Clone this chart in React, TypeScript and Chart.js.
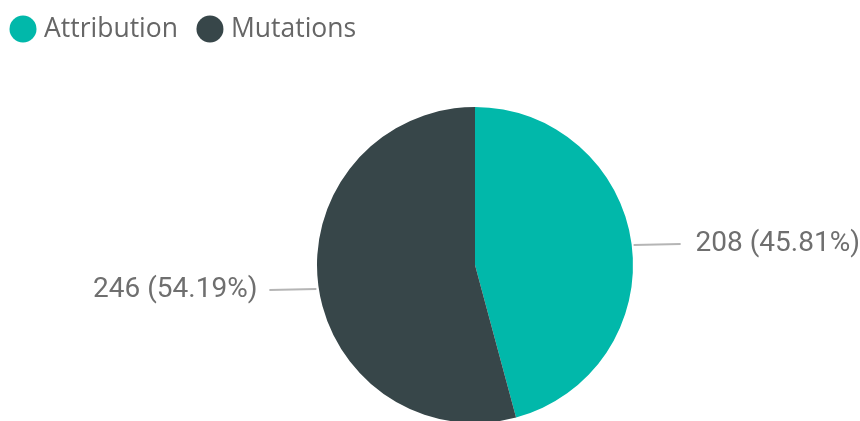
import React, { useEffect, useRef } from "react";
import { Chart, registerables } from "chart.js";

Chart.register(...registerables);

const categories: string[] = ["Attribution", "Mutations"];
const values: number[] = [208, 246];
const colors: string[] = ["#01B8AA", "#374649"];

const total = values.reduce((a, b) => a + b, 0);

const overlayPlugin = {
  id: "overlay",
  afterDraw(chart: any) {
    const ctx = chart.ctx as CanvasRenderingContext2D;
    ctx.save();
    // Legend
    ctx.textBaseline = "middle";
    ctx.font = "26.5px 'Open Sans', 'Noto Sans', sans-serif";
    let x = 23;
    const ly = 29;
    categories.forEach((c, i) => {
      ctx.fillStyle = colors[i];
      ctx.beginPath();
      ctx.arc(x, ly, 13.5, 0, Math.PI * 2);
      ctx.fill();
      ctx.fillStyle = "#666666";
      ctx.textAlign = "left";
      ctx.fillText(c, x + 21, ly);
      const w = ctx.measureText(c).width;
      x = x + 21 + w + 32;
    });

    // Data labels with leader lines
    const meta = chart.getDatasetMeta(0);
    ctx.font = "28px Roboto, sans-serif";
    meta.data.forEach((arc: any, i: number) => {
      const a = (arc.startAngle + arc.endAngle) / 2;
      const r = arc.outerRadius;
      const ex = arc.x + Math.cos(a) * (r + 2);
      const ey = arc.y + Math.sin(a) * (r + 2);
      const right = Math.cos(a) >= 0;
      const dy = right ? 0 : 4;
      const y = ey + dy;
      const x2 = right ? ex + 47 : ex - 47;
      ctx.strokeStyle = "#b5b5b5";
      ctx.lineWidth = 2;
      ctx.beginPath();
      ctx.moveTo(ex, y + (right ? 1 : -1));
      ctx.lineTo(x2, y);
      ctx.stroke();
      const pct = ((values[i] / total) * 100).toFixed(2);
      const txt = `${values[i]} (${pct}%)`;
      ctx.fillStyle = "#6f6f6f";
      ctx.textAlign = right ? "left" : "right";
      ctx.textBaseline = "middle";
      ctx.fillText(txt, right ? x2 + 15 : x2 - 12, y);
    });
    ctx.restore();
  },
};

export default function App() {
  const ref = useRef<HTMLCanvasElement | null>(null);
  useEffect(() => {
    document.body.style.margin = "0";
    const canvas = ref.current!;
    const chart = new Chart(canvas, {
      type: "pie",
      data: {
        labels: categories,
        datasets: [
          {
            data: values,
            backgroundColor: colors,
            borderWidth: 0,
          },
        ],
      },
      options: {
        responsive: false,
        animation: false,
        devicePixelRatio: 1,
        layout: { padding: { left: 317, right: 227, top: 107, bottom: 17 } },
        plugins: {
          legend: { display: false },
          tooltip: { enabled: false },
        },
      },
      plugins: [overlayPlugin],
    });
    return () => chart.destroy();
  }, []);
  return (
    <div style={{ width: 860, height: 421, overflow: "hidden", background: "#fff" }}>
      <canvas ref={ref} width={860} height={440} />
    </div>
  );
}
